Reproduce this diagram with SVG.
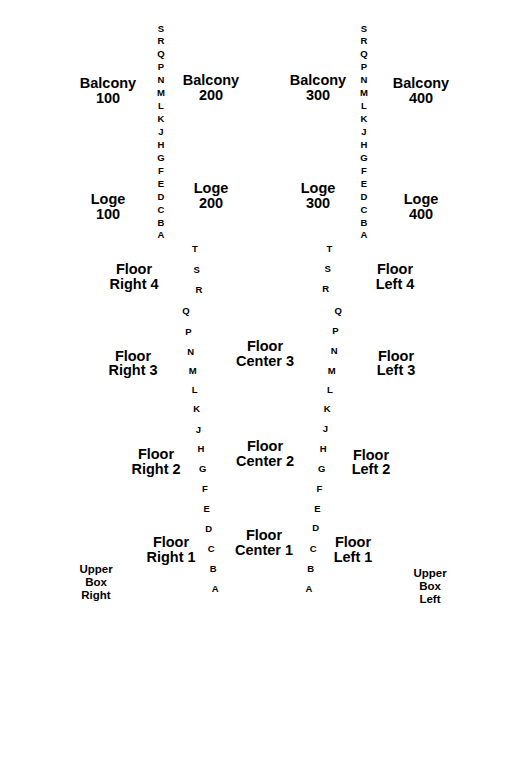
<svg xmlns="http://www.w3.org/2000/svg" width="525" height="759" viewBox="0 0 525 759">
<style>
text{font-family:"Liberation Sans",Arial,sans-serif;font-weight:bold;fill:#000;text-anchor:middle}
.sec{font-size:14.5px}
.row{font-size:9.5px}
.box{font-size:11.5px}
</style>
<rect width="525" height="759" fill="#fff"/>
<g id="balcony-100"><text class="sec" x="108" y="88">Balcony</text><text class="sec" x="108" y="103">100</text></g>
<g id="balcony-200"><text class="sec" x="211" y="85">Balcony</text><text class="sec" x="211" y="100">200</text></g>
<g id="balcony-300"><text class="sec" x="318" y="85">Balcony</text><text class="sec" x="318" y="100">300</text></g>
<g id="balcony-400"><text class="sec" x="421" y="88">Balcony</text><text class="sec" x="421" y="103">400</text></g>
<g id="loge-100"><text class="sec" x="108" y="204">Loge</text><text class="sec" x="108" y="219">100</text></g>
<g id="loge-200"><text class="sec" x="211" y="193">Loge</text><text class="sec" x="211" y="208">200</text></g>
<g id="loge-300"><text class="sec" x="318" y="193">Loge</text><text class="sec" x="318" y="208">300</text></g>
<g id="loge-400"><text class="sec" x="421" y="204">Loge</text><text class="sec" x="421" y="219">400</text></g>
<g id="rows-upper-left" class="row">
<text class="row" x="161" y="31.5">S</text><text class="row" x="161" y="44.4">R</text><text class="row" x="161" y="57.4">Q</text><text class="row" x="161" y="70.3">P</text><text class="row" x="161" y="83.2">N</text><text class="row" x="161" y="96.2">M</text><text class="row" x="161" y="109.1">L</text><text class="row" x="161" y="122">K</text><text class="row" x="161" y="135">J</text><text class="row" x="161" y="147.9">H</text><text class="row" x="161" y="160.8">G</text><text class="row" x="161" y="173.8">F</text><text class="row" x="161" y="186.7">E</text><text class="row" x="161" y="199.6">D</text><text class="row" x="161" y="212.6">C</text><text class="row" x="161" y="225.5">B</text><text class="row" x="161" y="238.4">A</text>
</g>
<g id="rows-upper-right">
<text class="row" x="364" y="31.5">S</text><text class="row" x="364" y="44.4">R</text><text class="row" x="364" y="57.4">Q</text><text class="row" x="364" y="70.3">P</text><text class="row" x="364" y="83.2">N</text><text class="row" x="364" y="96.2">M</text><text class="row" x="364" y="109.1">L</text><text class="row" x="364" y="122">K</text><text class="row" x="364" y="135">J</text><text class="row" x="364" y="147.9">H</text><text class="row" x="364" y="160.8">G</text><text class="row" x="364" y="173.8">F</text><text class="row" x="364" y="186.7">E</text><text class="row" x="364" y="199.6">D</text><text class="row" x="364" y="212.6">C</text><text class="row" x="364" y="225.5">B</text><text class="row" x="364" y="238.4">A</text>
</g>
<g id="rows-floor-left">
<text class="row" x="195" y="252.4">T</text><text class="row" x="196.7" y="272.6">S</text><text class="row" x="199" y="292.6">R</text><text class="row" x="186" y="314.4">Q</text><text class="row" x="188.3" y="335">P</text><text class="row" x="190.7" y="355">N</text><text class="row" x="192.7" y="374.4">M</text><text class="row" x="194.7" y="393.4">L</text><text class="row" x="196.7" y="412.4">K</text><text class="row" x="198.3" y="432.6">J</text><text class="row" x="201" y="452.4">H</text><text class="row" x="202.7" y="472.4">G</text><text class="row" x="205" y="492">F</text><text class="row" x="206.7" y="512">E</text><text class="row" x="208.7" y="531.6">D</text><text class="row" x="211.3" y="552.4">C</text><text class="row" x="213.3" y="572.4">B</text><text class="row" x="215.3" y="592.4">A</text>
</g>
<g id="rows-floor-right">
<text class="row" x="329.3" y="252.4">T</text><text class="row" x="327.7" y="272.4">S</text><text class="row" x="325.7" y="292.4">R</text><text class="row" x="338.3" y="314.4">Q</text><text class="row" x="335.3" y="334.4">P</text><text class="row" x="334.3" y="354.4">N</text><text class="row" x="331.7" y="374.4">M</text><text class="row" x="330" y="393.4">L</text><text class="row" x="327.3" y="412.4">K</text><text class="row" x="325.3" y="432.4">J</text><text class="row" x="323.3" y="452.4">H</text><text class="row" x="321.7" y="472.4">G</text><text class="row" x="319.3" y="492.4">F</text><text class="row" x="317.3" y="512.4">E</text><text class="row" x="315.7" y="531.4">D</text><text class="row" x="313.3" y="552.4">C</text><text class="row" x="310.7" y="572.4">B</text><text class="row" x="309" y="592.4">A</text>
</g>
<g id="floor-right-4"><text class="sec" x="134" y="274">Floor</text><text class="sec" x="134" y="288.5">Right 4</text></g>
<g id="floor-left-4"><text class="sec" x="395" y="274">Floor</text><text class="sec" x="395" y="288.5">Left 4</text></g>
<g id="floor-right-3"><text class="sec" x="133" y="360.5">Floor</text><text class="sec" x="133" y="375">Right 3</text></g>
<g id="floor-center-3"><text class="sec" x="265" y="351">Floor</text><text class="sec" x="265" y="365.5">Center 3</text></g>
<g id="floor-left-3"><text class="sec" x="396" y="360.5">Floor</text><text class="sec" x="396" y="375">Left 3</text></g>
<g id="floor-right-2"><text class="sec" x="156" y="459">Floor</text><text class="sec" x="156" y="474">Right 2</text></g>
<g id="floor-center-2"><text class="sec" x="265" y="451">Floor</text><text class="sec" x="265" y="466">Center 2</text></g>
<g id="floor-left-2"><text class="sec" x="371" y="459.5">Floor</text><text class="sec" x="371" y="474">Left 2</text></g>
<g id="floor-right-1"><text class="sec" x="171" y="547">Floor</text><text class="sec" x="171" y="561.5">Right 1</text></g>
<g id="floor-center-1"><text class="sec" x="264" y="540">Floor</text><text class="sec" x="264" y="555">Center 1</text></g>
<g id="floor-left-1"><text class="sec" x="353" y="547">Floor</text><text class="sec" x="353" y="561.5">Left 1</text></g>
<g id="upper-box-right"><text class="box" x="96" y="573">Upper</text><text class="box" x="96" y="586">Box</text><text class="box" x="96" y="599">Right</text></g>
<g id="upper-box-left"><text class="box" x="430" y="577">Upper</text><text class="box" x="430" y="590">Box</text><text class="box" x="430" y="603">Left</text></g>
<g id="connectors"></g>
</svg>
